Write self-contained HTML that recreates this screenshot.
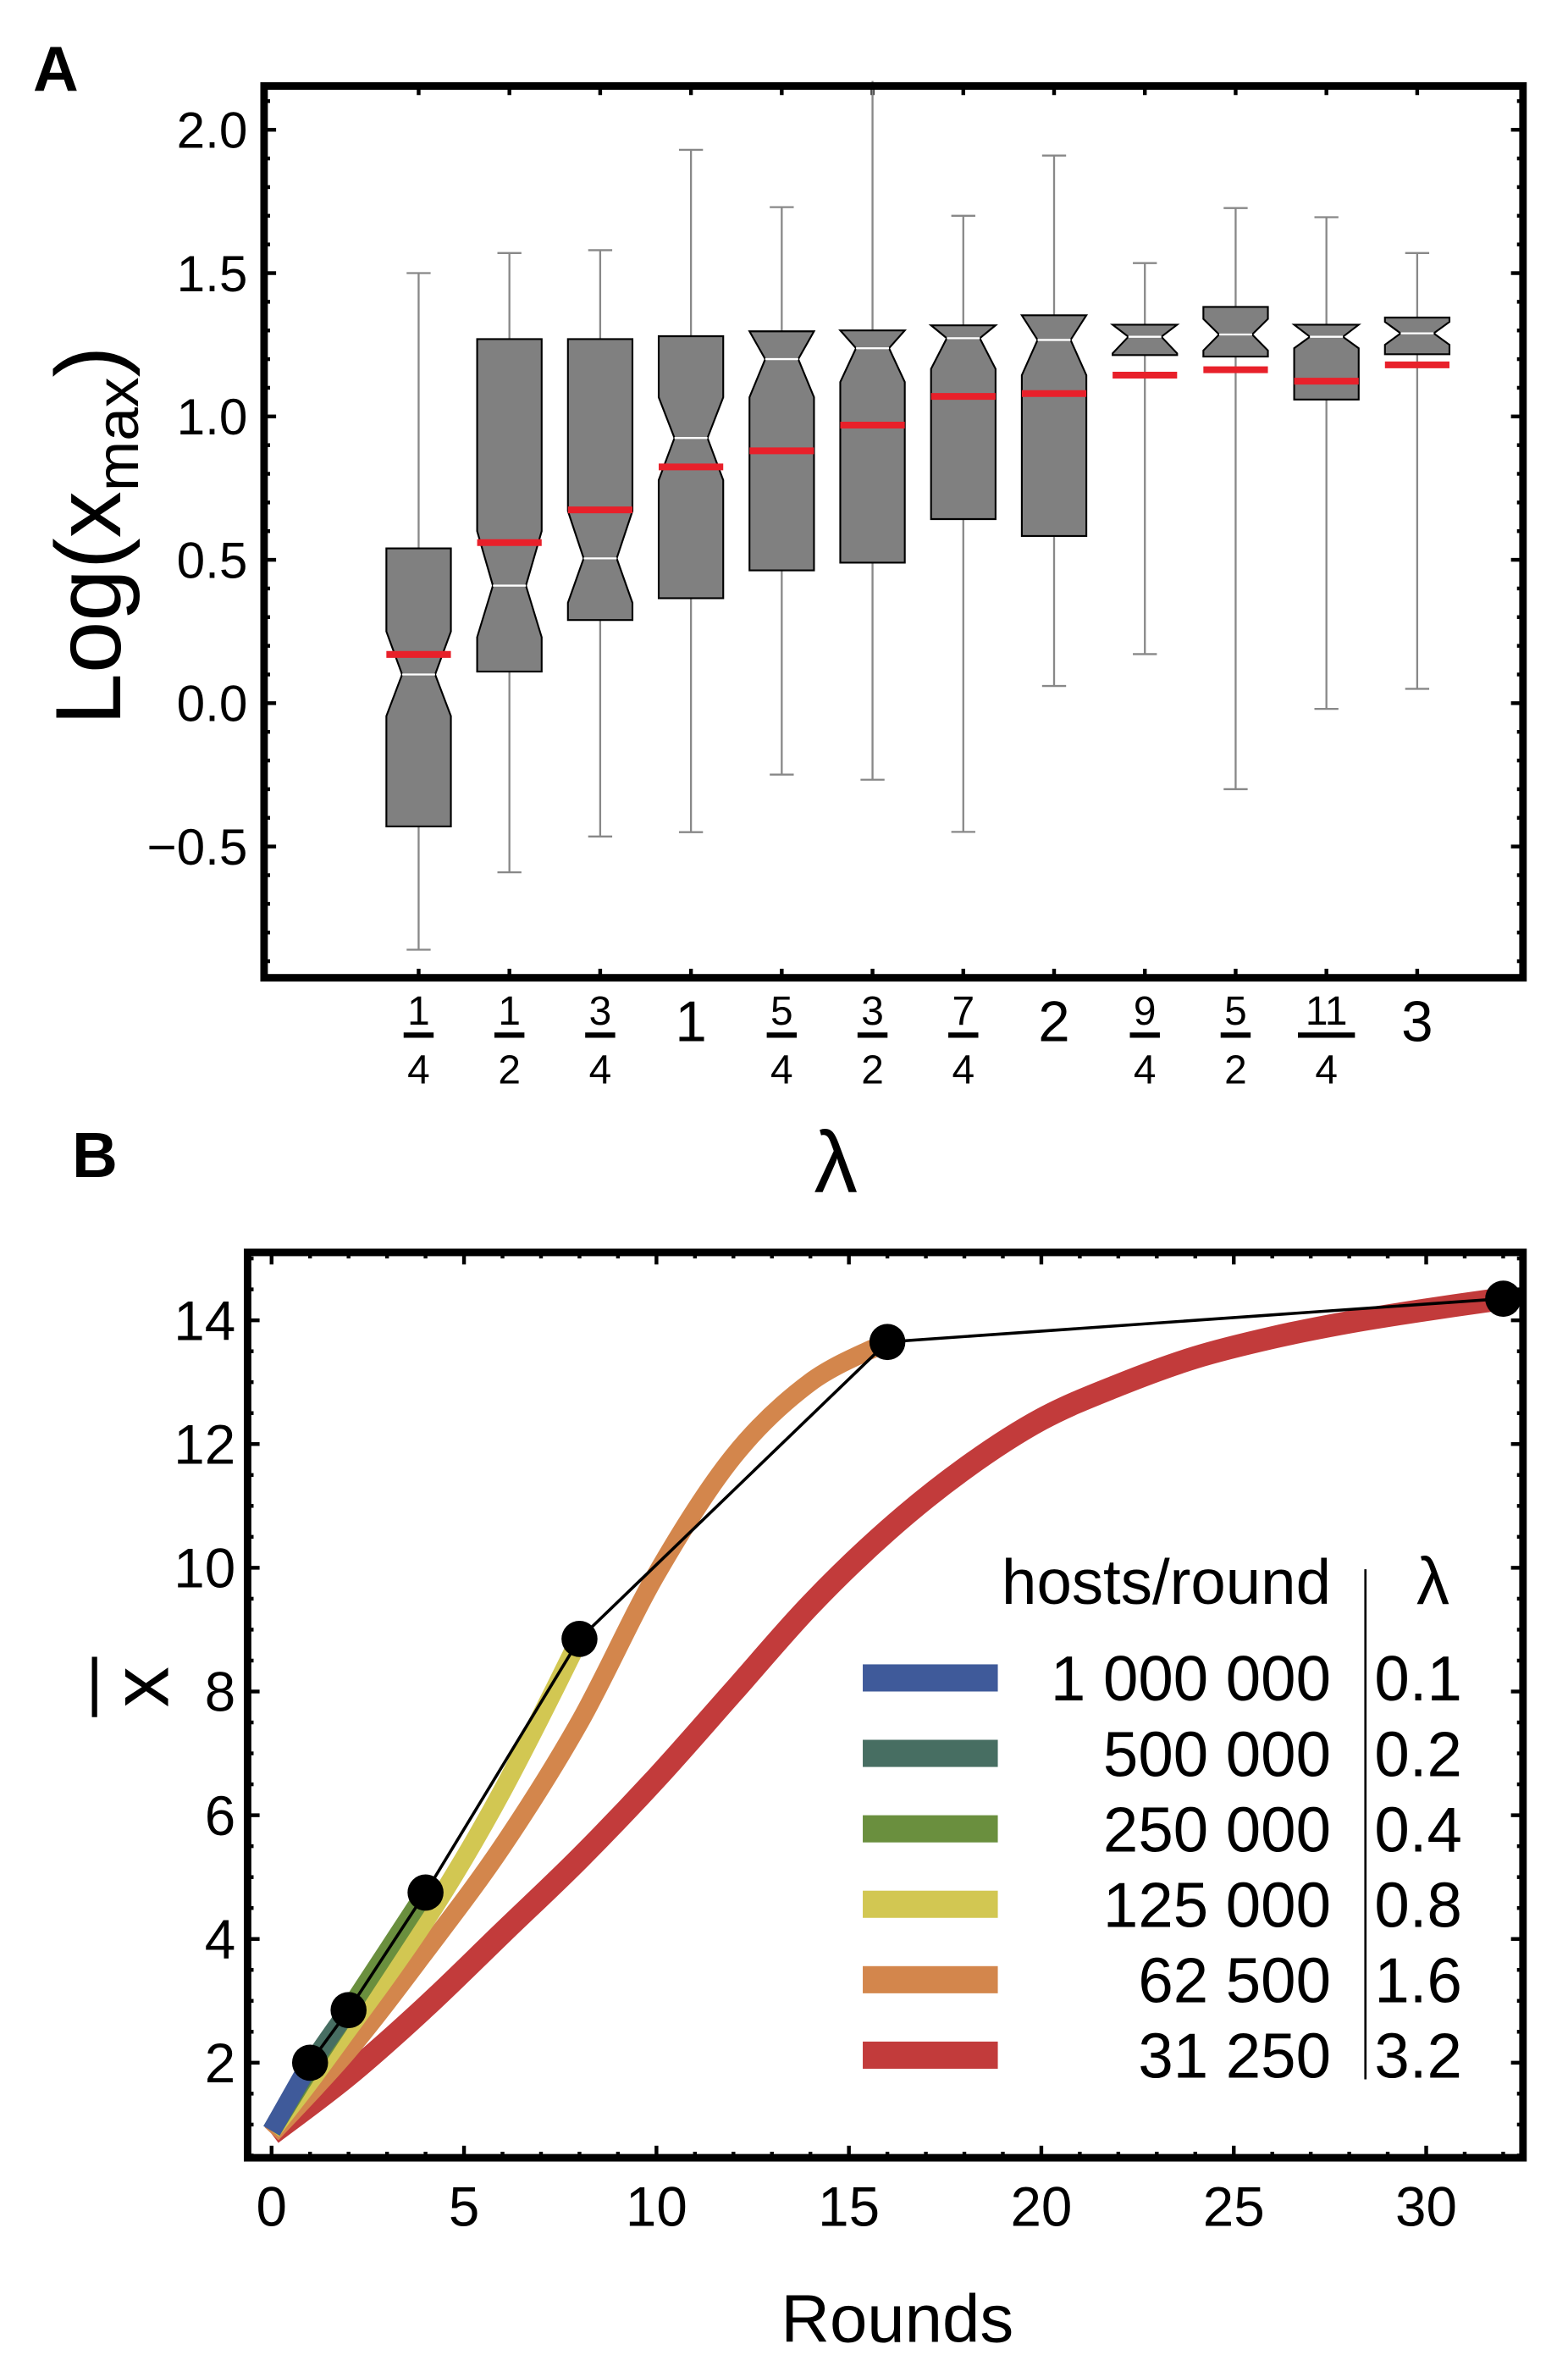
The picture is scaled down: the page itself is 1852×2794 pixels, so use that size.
<!DOCTYPE html>
<html><head><meta charset="utf-8">
<style>
html,body{margin:0;padding:0;background:#fff;}
svg{display:block;}
text{font-family:"Liberation Sans",sans-serif;}
</style></head>
<body>
<svg id="fig" xmlns="http://www.w3.org/2000/svg" width="1852" height="2794" viewBox="0 0 1045 1568" preserveAspectRatio="none">
<rect x="0" y="0" width="1045" height="1568" fill="#fff"/>
<g id="panelA"></g>
<g id="panelB"></g>
</svg>
<script>
// ---------- Panel A data ----------
const catNum = ["1","1","3","1","5","3","7","2","9","5","11","3"];
const catDen = ["4","2","4","","4","2","4","","4","2","4",""];
const whiskerHi = [1.50,1.57,1.58,1.93,1.73,2.25,1.70,1.91,1.535,1.727,1.695,1.57];
const boxHi    = [0.54,1.27,1.27,1.28,1.297,1.30,1.318,1.353,1.32,1.382,1.32,1.345];
const medians  = [0.10,0.41,0.505,0.925,1.20,1.238,1.273,1.267,1.278,1.286,1.278,1.29];
const boxLo    = [-0.43,0.11,0.29,0.366,0.463,0.49,0.642,0.583,1.214,1.209,1.059,1.217];
const whiskerLo= [-0.86,-0.59,-0.465,-0.45,-0.249,-0.267,-0.449,0.06,0.171,-0.30,-0.02,0.05];
const notchHi  = [0.25,0.60,0.67,1.067,1.33,1.36,1.38,1.39,1.33,1.34,1.32,1.33];
const notchLo  = [-0.045,0.23,0.35,0.778,1.067,1.12,1.166,1.144,1.22,1.23,1.238,1.25];
const means    = [0.17,0.56,0.674,0.824,0.88,0.97,1.07,1.08,1.144,1.163,1.123,1.18];
const yTicksA  = [-0.5,0.0,0.5,1.0,1.5,2.0];
const yTickLabelsA = ["\u22120.5","0.0","0.5","1.0","1.5","2.0"];

// ---------- Panel B data ----------
const seriesNames = ["1 000 000","500 000","250 000","125 000","62 500","31 250"];
const seriesLambda = ["0.1","0.2","0.4","0.8","1.6","3.2"];
const seriesColors = ["#3f5a9a","#476e62","#6a8f3e","#d2c752","#d3864c","#c23b3b"];
const roundsBlue = [0,1];             const valsBlue = [0.9,2.0];
const roundsTeal = [0,1,2];           const valsTeal = [0.9,1.95,2.85];
const roundsGreen = [0,1,2,3,4];      const valsGreen = [0.9,1.9,2.85,3.8,4.75];
const roundsYellow = [0,1,2,3,4,5,6,7,8]; const valsYellow = [0.9,1.7,2.55,3.4,4.3,5.3,6.4,7.6,8.85];
const roundsOrange = [0,2,4,6,8,10,12,14,16]; const valsOrange = [0.85,2.2,3.8,5.5,7.5,9.9,11.8,13.0,13.65];
const roundsRed = [0,2,4,6,8,10,12,14,16,18,20,22,24,26,28,30,32];
const valsRed = [0.85,1.8,2.9,4.1,5.3,6.6,8.0,9.4,10.6,11.6,12.4,12.95,13.4,13.72,13.97,14.17,14.35];
const dotRounds = [1,2,4,8,16,32];
const dotVals = [2.0,2.85,4.75,8.85,13.65,14.35];
const xTicksB = [0,5,10,15,20,25,30];
const yTicksB = [2,4,6,8,10,12,14];

const NS="http://www.w3.org/2000/svg";
function mk(tag, attrs, parent){const e=document.createElementNS(NS,tag);for(const k in attrs)e.setAttribute(k,attrs[k]);parent.appendChild(e);return e;}
function smoothPath(pts){
 if(pts.length<3) return 'M'+pts.map(p=>p.join(',')).join(' L');
 let d='M'+pts[0][0]+','+pts[0][1];
 for(let i=0;i<pts.length-1;i++){
  const p0=pts[i-1]||pts[i],p1=pts[i],p2=pts[i+1],p3=pts[i+2]||pts[i+1];
  const c1=[p1[0]+(p2[0]-p0[0])/6,p1[1]+(p2[1]-p0[1])/6];
  const c2=[p2[0]-(p3[0]-p1[0])/6,p2[1]-(p3[1]-p1[1])/6];
  d+=' C'+c1.join(',')+' '+c2.join(',')+' '+p2.join(',');
 }
 return d;
}

// ===== Panel A =====
const A=document.getElementById('panelA');
const aL=176,aR=1015,aT=57,aB=648;
const yA=v=>466-190*v;
const xA=i=>279+60.5*i;
let t=mk('text',{x:22,y:60,'font-size':42,'font-weight':'bold'},A);t.textContent='A';


for(let v=-0.9;v<=2.15;v+=0.1){const r=Math.round(v*10);const major=r%5===0;const len=major?8:4;
 mk('line',{x1:aL,x2:aL+len,y1:yA(r/10),y2:yA(r/10),stroke:'#000','stroke-width':2.5},A);
 mk('line',{x1:aR,x2:aR-len,y1:yA(r/10),y2:yA(r/10),stroke:'#000','stroke-width':2.5},A);}
for(let i=0;i<catNum.length;i++){
 mk('line',{x1:xA(i),x2:xA(i),y1:aB,y2:aB-6,stroke:'#000','stroke-width':2.5},A);
 mk('line',{x1:xA(i),x2:xA(i),y1:aT,y2:aT+6,stroke:'#000','stroke-width':2.5},A);}
yTicksA.forEach((v,i)=>{const tx=mk('text',{x:165,y:yA(v)+12,'font-size':34,'text-anchor':'end'},A);tx.textContent=yTickLabelsA[i];
 
 });
for(let i=0;i<catNum.length;i++){
 const g=mk('g',{},A);
 
 
 const cx=xA(i),hw=21.5,nw=11;
 const wh=Math.min(whiskerHi[i],2.17);
 mk('line',{x1:cx,x2:cx,y1:yA(wh),y2:yA(boxHi[i]),stroke:'#888','stroke-width':1.3},g);
 mk('line',{x1:cx,x2:cx,y1:yA(boxLo[i]),y2:yA(whiskerLo[i]),stroke:'#888','stroke-width':1.3},g);
 if(whiskerHi[i]<2.17) mk('line',{x1:cx-8,x2:cx+8,y1:yA(wh),y2:yA(wh),stroke:'#888','stroke-width':1.3},g);
 mk('line',{x1:cx-8,x2:cx+8,y1:yA(whiskerLo[i]),y2:yA(whiskerLo[i]),stroke:'#888','stroke-width':1.3},g);
 const nh=Math.min(notchHi[i],boxHi[i]), nl=Math.max(notchLo[i],boxLo[i]);
 const pts=[[cx-hw,yA(boxHi[i])],[cx+hw,yA(boxHi[i])],[cx+hw,yA(nh)],[cx+nw,yA(medians[i])],[cx+hw,yA(nl)],[cx+hw,yA(boxLo[i])],
  [cx-hw,yA(boxLo[i])],[cx-hw,yA(nl)],[cx-nw,yA(medians[i])],[cx-hw,yA(nh)]];
 mk('polygon',{points:pts.map(p=>p.join(',')).join(' '),fill:'#808080',stroke:'#000','stroke-width':1.2},g);
 mk('line',{x1:cx-nw,x2:cx+nw,y1:yA(medians[i]),y2:yA(medians[i]),stroke:'#fff','stroke-width':1.3},g);
 const m=mk('line',{x1:cx-hw,x2:cx+hw,y1:yA(means[i]),y2:yA(means[i]),stroke:'#e8202a','stroke-width':4.5},g);
 
 
 if(catDen[i]===''){const tx=mk('text',{x:cx,y:690,'font-size':38,'text-anchor':'middle'},A);tx.textContent=catNum[i];
  
  }
 else{const n=mk('text',{x:cx,y:679,'font-size':27,'text-anchor':'middle'},A);n.textContent=catNum[i];
  
  
  const bw=catNum[i].length>1?20:11;
  mk('line',{x1:cx-bw+1,x2:cx+bw-1,y1:686,y2:686,stroke:'#000','stroke-width':3.5},A);
  const d=mk('text',{x:cx,y:718,'font-size':27,'text-anchor':'middle'},A);d.textContent=catDen[i];
  
  }
}
mk('rect',{x:aL,y:aT,width:aR-aL,height:aB-aT,fill:'none',stroke:'#000','stroke-width':5},A);
t=mk('text',{x:557,y:790,'font-size':58,'text-anchor':'middle'},A);t.textContent='\u03bb';


t=mk('text',{x:0,y:0,'font-size':62,'text-anchor':'middle',transform:'translate(80,355) rotate(-90)'},A);
t.innerHTML='Log(x<tspan font-size="40" dy="12">max</tspan><tspan dy="-12">)</tspan>';



// ===== Panel B =====
const B=document.getElementById('panelB');
const bL=165,bR=1015,bT=830,bB=1430;
const xB=r=>181+25.65*r;
const yB=v=>1449-41*v;
t=mk('text',{x:48,y:780,'font-size':42,'font-weight':'bold'},B);t.textContent='B';


for(let r=0;r<=32;r++){const len=r%5===0?8:4;
 mk('line',{x1:xB(r),x2:xB(r),y1:bB,y2:bB-len,stroke:'#000','stroke-width':2.5},B);
 mk('line',{x1:xB(r),x2:xB(r),y1:bT,y2:bT+len,stroke:'#000','stroke-width':2.5},B);}
for(let k=1;k<=30;k++){const v=k/2;const len=(k%4===0)?8:4;
 mk('line',{x1:bL,x2:bL+len,y1:yB(v),y2:yB(v),stroke:'#000','stroke-width':2.5},B);
 mk('line',{x1:bR,x2:bR-len,y1:yB(v),y2:yB(v),stroke:'#000','stroke-width':2.5},B);}
xTicksB.forEach(v=>{const tx=mk('text',{x:xB(v),y:1475,'font-size':37,'text-anchor':'middle'},B);tx.textContent=v;
 
 });
yTicksB.forEach(v=>{const tx=mk('text',{x:157,y:yB(v)+13,'font-size':37,'text-anchor':'end'},B);tx.textContent=v;
 
 });
const series=[[roundsRed,valsRed,5],[roundsOrange,valsOrange,4],[roundsYellow,valsYellow,3],[roundsGreen,valsGreen,2],[roundsTeal,valsTeal,1],[roundsBlue,valsBlue,0]];
series.forEach(([rs,vs,ci])=>{
 const p=mk('path',{d:smoothPath(rs.map((r,j)=>[xB(r),yB(vs[j])])),fill:'none',stroke:seriesColors[ci],'stroke-width':ci===5?15:12.5,'stroke-linejoin':'round'},B);
 
 });
const cl=mk('polyline',{points:dotRounds.map((r,j)=>xB(r)+','+yB(dotVals[j])).join(' '),fill:'none',stroke:'#000','stroke-width':2},B);


dotRounds.forEach((r,j)=>{const c=mk('circle',{cx:xB(r),cy:yB(dotVals[j]),r:12,fill:'#000'},B);
 
 });
mk('rect',{x:bL,y:bT,width:bR-bL,height:bB-bT,fill:'none',stroke:'#000','stroke-width':5},B);
const lg=mk('g',{},B);


t=mk('text',{x:887,y:1063,'font-size':42,'text-anchor':'end'},lg);t.textContent='hosts/round';
t=mk('text',{x:955,y:1063,'font-size':44,'text-anchor':'middle'},lg);t.textContent='\u03bb';
mk('line',{x1:910,x2:910,y1:1040,y2:1378,stroke:'#000','stroke-width':1.5},lg);
seriesNames.forEach((n,i)=>{const y=1112+50*i;
 const s=mk('rect',{x:575,y:y-9,width:90,height:18,fill:seriesColors[i]},lg);
 
 
 const tx=mk('text',{x:887,y:y+15,'font-size':42,'text-anchor':'end'},lg);tx.textContent=n;
 
 
 const tl=mk('text',{x:916,y:y+15,'font-size':42},lg);tl.textContent=seriesLambda[i];
 
 });
t=mk('text',{x:598,y:1552,'font-size':45,'text-anchor':'middle'},B);t.textContent='Rounds';


const yt=mk('g',{},B);


t=mk('text',{x:0,y:0,'font-size':54,'text-anchor':'middle',transform:'translate(112,1118) rotate(-90)'},yt);t.textContent='x';
mk('line',{x1:63,x2:63,y1:1098,y2:1138,stroke:'#000','stroke-width':3.5},yt);
</script>
</body></html>
